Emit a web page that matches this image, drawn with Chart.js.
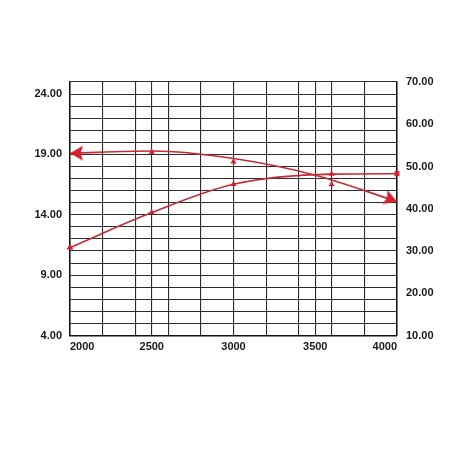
<!DOCTYPE html>
<html><head><meta charset="utf-8">
<script src="https://cdn.jsdelivr.net/npm/chart.js@4"></script>
<style>html,body{margin:0;padding:0;background:#fff}#wrap{width:452px;height:452px}</style>
</head><body><div id="wrap"><canvas id="c" width="452" height="452"></canvas></div>
<script>
// ---- data ----
const rpmGrid = [2000,2200,2400,2500,2600,2800,3000,3200,3400,3500,3600,3800,4000];
const rpmLabels = [2000,2500,3000,3500,4000];
const leftLabels = [4,9,14,19,24];
const rightLabels = [10,20,30,40,50,60,70];
const torqueCurveRpm = [2000,2500,3000,3500,4000];
const torqueCurve = [19.1,19.28,18.66,17.28,15.1];
const torquePointRpm = [2500,3000,3600];
const torquePoints = [19.2,18.4,16.5];
const powerRpm = [2000,2500,3000,3600,4000];
const power = [30.8,39.1,45.8,48.2,48.3];

const RED = '#d61f2e';
const LINE = '#c42a36';
const GRID = '#2c2c2c';

function arrowHead(){
  const c = document.createElement('canvas');
  c.width = 30; c.height = 18;
  const g = c.getContext('2d');
  g.fillStyle = RED;
  g.beginPath();
  g.moveTo(15,9); g.lineTo(28,1.5); g.lineTo(25.5,9); g.lineTo(28,16.5);
  g.closePath(); g.fill();
  return c;
}
const arrow = arrowHead();
const xy = (xs, ys) => xs.map((x,i)=>({x:x, y:ys[i]}));
const font = {family:"'Liberation Sans', Arial, sans-serif", size:11, weight:'bold'};

new Chart(document.getElementById('c'), {
  type:'line',
  data:{datasets:[
    {data: xy(torqueCurveRpm, torqueCurve), yAxisID:'y', borderColor:LINE, borderWidth:1.6,
     cubicInterpolationMode:'monotone', fill:false, clip:false,
     pointStyle:[arrow,arrow,arrow,arrow,arrow], pointRadius:[7,0,0,0,7], pointRotation:[0,0,0,0,200],
     backgroundColor:RED},
    {data: xy(torquePointRpm, torquePoints), yAxisID:'y', showLine:false, pointStyle:'triangle',
     pointRadius:3.5, backgroundColor:RED, borderColor:RED, borderWidth:0, clip:false},
    {data: xy(powerRpm, power), yAxisID:'y1', borderColor:LINE, borderWidth:1.6,
     cubicInterpolationMode:'monotone', fill:false, clip:false,
     pointStyle:['triangle','triangle','triangle','triangle','rect'], pointRadius:[4,3.5,3.5,3.5,3.5],
     backgroundColor:RED, pointBorderColor:RED, pointBorderWidth:0}
  ]},
  options:{
    responsive:false, animation:false, events:[],
    layout:{padding:{top:82,left:0,right:0,bottom:0}},
    plugins:{legend:{display:false}, tooltip:{enabled:false}},
    scales:{
      x:{type:'linear', min:2000, max:4000, position:'bottom',
         afterBuildTicks:s=>{s.ticks = rpmGrid.map(v=>({value:v}));},
         afterFit:s=>{s.height = 116.5;},
         ticks:{autoSkip:false, maxRotation:0, align:'inner', padding:5, color:'#1a1a1a', font:font,
                callback:v=>rpmLabels.includes(v)?String(v):''},
         grid:{color:GRID, lineWidth:1.1, drawTicks:false},
         border:{color:'#111', width:1.5}},
      y:{type:'linear', min:4, max:25, position:'left',
         afterBuildTicks:s=>{const t=[]; for(let v=4; v<=25; v++) t.push({value:v}); s.ticks=t;},
         afterFit:s=>{s.width = 70;},
         ticks:{autoSkip:false, padding:8, color:'#1a1a1a', font:font,
                callback:v=>leftLabels.includes(v)?v.toFixed(2):''},
         grid:{color:GRID, lineWidth:1.1, drawTicks:false},
         border:{color:'#111', width:1.5}},
      y1:{type:'linear', min:10, max:70, position:'right',
         afterBuildTicks:s=>{s.ticks = rightLabels.map(v=>({value:v}));},
         afterFit:s=>{s.width = 55;},
         ticks:{autoSkip:false, padding:9, color:'#1a1a1a', font:font,
                callback:v=>v.toFixed(2)},
         grid:{display:false, drawTicks:false},
         border:{color:'#111', width:1.5}}
    }
  }
});
</script></body></html>
